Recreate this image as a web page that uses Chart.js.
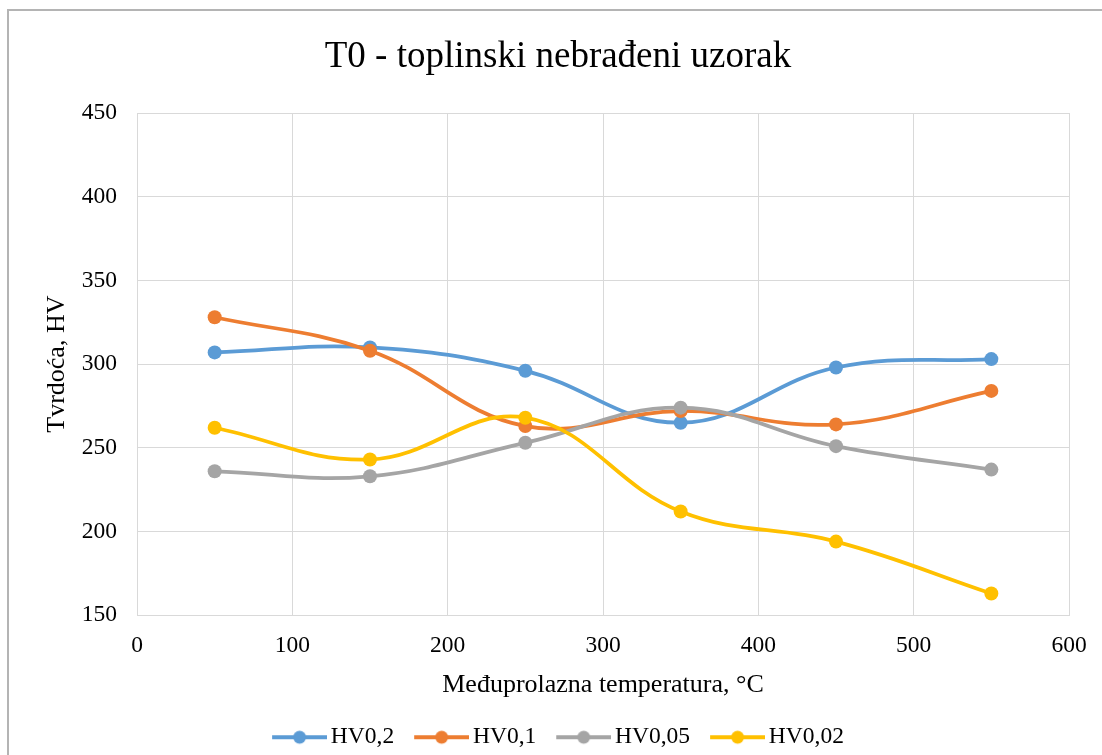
<!DOCTYPE html>
<html>
<head>
<meta charset="utf-8">
<title>T0 - toplinski nebrađeni uzorak</title>
<script src="https://cdn.jsdelivr.net/npm/chart.js@4/dist/chart.umd.min.js"></script>
<style>
    html, body { margin: 0; padding: 0; background: #fff; overflow: hidden; }
    .chart-wrap { position: relative; width: 1102px; height: 759px; }
</style>
</head>
<body>
<div class="chart-wrap">
    <canvas id="hardnessChart"></canvas>
</div>
<script>
// Interpass temperature (°C) and hardness per load
const temperatures = [50, 150, 250, 350, 450, 550];
const hv02 = [307, 310, 296, 265, 298, 303];
const hv01 = [328, 308, 263, 272, 264, 284];
const hv005 = [236, 233, 253, 274, 251, 237];
const hv002 = [262, 243, 268, 212, 194, 163];

const seriesNames = ['HV0,2', 'HV0,1', 'HV0,05', 'HV0,02'];
const seriesColors = ['#5B9BD5', '#ED7D31', '#A5A5A5', '#FFC000'];

const xTicks = [0, 100, 200, 300, 400, 500, 600];
const yTicks = [150, 200, 250, 300, 350, 400, 450];

const FONT = "'Liberation Serif', 'Times New Roman', serif";

// Legend swatch: short line with a dot in the middle
function legendSwatch(color) {
    const c = document.createElement('canvas');
    c.width = 63;
    c.height = 16;
    const g = c.getContext('2d');
    g.strokeStyle = color;
    g.lineWidth = 4;
    g.beginPath();
    g.moveTo(8, 8);
    g.lineTo(63, 8);
    g.stroke();
    g.fillStyle = color;
    g.beginPath();
    g.arc(35.5, 8, 6.5, 0, Math.PI * 2);
    g.fill();
    return c;
}
const swatches = seriesColors.map(legendSwatch);

function toPoints(values) {
    return values.map((v, i) => ({ x: temperatures[i], y: v }));
}

const seriesValues = [hv02, hv01, hv005, hv002];
const datasets = seriesValues.map((values, i) => ({
    label: seriesNames[i],
    data: toPoints(values),
    borderColor: seriesColors[i],
    backgroundColor: seriesColors[i],
    borderWidth: 3.75,
    pointRadius: 7,
    pointHoverRadius: 7,
    pointBorderWidth: 0,
    tension: 0.4,
    fill: false,
    // later series sit on top
    order: seriesValues.length - i
}));

// White background and the outer frame
const framePlugin = {
    id: 'frame',
    beforeDraw(chart) {
        const ctx = chart.ctx;
        ctx.save();
        ctx.fillStyle = '#fff';
        ctx.fillRect(0, 0, chart.width, chart.height);
        ctx.strokeStyle = '#b4b4b4';
        ctx.lineWidth = 2;
        ctx.strokeRect(8, 10, chart.width + 40, chart.height + 40);
        ctx.restore();
    }
};

const ctx = document.getElementById('hardnessChart').getContext('2d');
new Chart(ctx, {
    type: 'line',
    data: { datasets: datasets },
    plugins: [framePlugin],
    options: {
        responsive: true,
        maintainAspectRatio: false,
        animation: false,
        layout: { padding: { left: 14, right: 0, top: 0, bottom: 0 } },
        plugins: {
            title: {
                display: true,
                text: 'T0 - toplinski nebrađeni uzorak',
                color: '#000',
                font: { family: FONT, size: 37, weight: 'normal' },
                padding: { top: 35, bottom: 33.6 }
            },
            legend: {
                position: 'bottom',
                labels: {
                    color: '#000',
                    font: { family: FONT, size: 23.5 },
                    usePointStyle: true,
                    pointStyleWidth: 47,
                    padding: 20,
                    sort: (a, b) => a.datasetIndex - b.datasetIndex,
                    generateLabels(chart) {
                        const items = Chart.defaults.plugins.legend.labels.generateLabels(chart);
                        items.forEach(item => { item.pointStyle = swatches[item.datasetIndex]; });
                        return items;
                    }
                }
            },
            tooltip: { enabled: false }
        },
        scales: {
            x: {
                type: 'linear',
                min: xTicks[0],
                max: xTicks[xTicks.length - 1],
                afterBuildTicks: axis => { axis.ticks = xTicks.map(v => ({ value: v })); },
                afterFit: axis => { axis.height = 90.25; axis.paddingRight = 33; },
                grid: { color: '#d9d9d9', lineWidth: 1, drawTicks: false },
                border: { color: '#d9d9d9' },
                ticks: {
                    color: '#000',
                    padding: 16,
                    font: { family: FONT, size: 23.5 }
                },
                title: {
                    display: true,
                    text: 'Međuprolazna temperatura, °C',
                    color: '#000',
                    font: { family: FONT, size: 26 },
                    padding: { top: 5, bottom: 5 }
                }
            },
            y: {
                min: yTicks[0],
                max: yTicks[yTicks.length - 1],
                afterBuildTicks: axis => { axis.ticks = yTicks.map(v => ({ value: v })); },
                afterFit: axis => { axis.width = 123; },
                grid: { color: '#d9d9d9', lineWidth: 1, drawTicks: false },
                border: { color: '#d9d9d9' },
                ticks: {
                    color: '#000',
                    padding: 20,
                    font: { family: FONT, size: 23.5 }
                },
                title: {
                    display: true,
                    text: 'Tvrdoća, HV',
                    color: '#000',
                    font: { family: FONT, size: 26 },
                    padding: { top: 28, bottom: 28 }
                }
            }
        }
    }
});
</script>
</body>
</html>
